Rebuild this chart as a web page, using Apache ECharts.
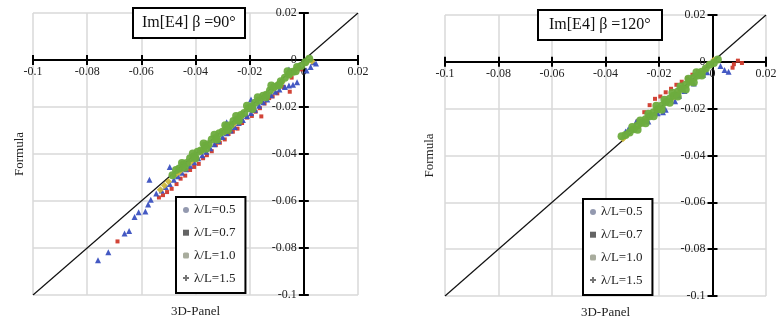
<!DOCTYPE html>
<html>
<head>
<meta charset="utf-8">
<script src="https://cdn.jsdelivr.net/npm/echarts@6/dist/echarts.min.js"></script>
<style>html,body{margin:0;padding:0;background:#fff}#c{width:776px;height:324px}</style>
</head>
<body>
<div id="c"></div>
<script>
// ---- data (x = 3D-Panel, y = Formula) ----
const seriesNames = ['λ/L=0.5', 'λ/L=0.7', 'λ/L=1.0', 'λ/L=1.5'];
const panelTitles = ['Im[E4] β =90°', 'Im[E4] β =120°'];
const xAxisTitle = '3D-Panel';
const yAxisTitle = 'Formula';
const axisMin = -0.1, axisMax = 0.02, axisStep = 0.02;
const diagonal = [[-0.1, -0.1], [0.02, 0.02]];

// beta = 90
const left05 = [[0.0035,-0.001],[0.0045,-0.0015],[0.0025,-0.003],[0.001,-0.0045],[-0.0025,-0.0095],[-0.004,-0.0105],[-0.0055,-0.0108],[-0.007,-0.0115],[-0.009,-0.0125],[-0.0105,-0.0135],[-0.012,-0.015],[-0.0135,-0.0168],[-0.015,-0.018],[-0.0165,-0.0195],[-0.018,-0.0212],[-0.0195,-0.0225],[-0.021,-0.0238],[-0.0225,-0.0255],[-0.024,-0.0268],[-0.0255,-0.0285],[-0.027,-0.03],[-0.0285,-0.0312],[-0.03,-0.0328],[-0.0315,-0.0345],[-0.033,-0.0358],[-0.0345,-0.0375],[-0.036,-0.039],[-0.0375,-0.0405],[-0.039,-0.0418],[-0.0405,-0.0435],[-0.042,-0.045],[-0.0435,-0.0465],[-0.045,-0.048],[-0.0465,-0.0495],[-0.048,-0.051],[-0.0495,-0.0528],[-0.051,-0.054],[-0.0525,-0.0555],[-0.0545,-0.0568],[-0.0285,-0.0265],[-0.0195,-0.0168],[-0.0495,-0.0455],[-0.0055,-0.004],[-0.057,-0.051],[-0.0565,-0.0595],[-0.0575,-0.0615],[-0.0585,-0.0645],[-0.061,-0.0648],[-0.0625,-0.0668],[-0.0645,-0.0728],[-0.0662,-0.0738],[-0.0722,-0.0818],[-0.076,-0.0852]];
const left07 = [[-0.001,-0.004],[-0.0045,-0.0075],[-0.0052,-0.0135],[-0.0075,-0.0115],[-0.0098,-0.0142],[-0.0115,-0.0155],[-0.0128,-0.0162],[-0.0145,-0.0185],[-0.0157,-0.024],[-0.0162,-0.0205],[-0.0178,-0.022],[-0.0192,-0.0238],[-0.021,-0.0245],[-0.0228,-0.0268],[-0.0245,-0.0292],[-0.0262,-0.0305],[-0.0278,-0.0315],[-0.0292,-0.0338],[-0.031,-0.0352],[-0.0325,-0.0362],[-0.034,-0.0388],[-0.0358,-0.0405],[-0.0372,-0.0418],[-0.0388,-0.0442],[-0.0405,-0.0455],[-0.042,-0.0468],[-0.0438,-0.0492],[-0.0455,-0.0505],[-0.047,-0.0528],[-0.0488,-0.0548],[-0.0505,-0.0562],[-0.052,-0.0575],[-0.0535,-0.0585],[-0.0688,-0.0772]];
const left10 = [[0.002,0.0005],[0.0005,-0.001],[-0.001,-0.0025],[-0.0025,-0.003],[-0.004,-0.005],[-0.0055,-0.0062],[-0.007,-0.0075],[-0.0085,-0.009],[-0.0095,-0.0108],[-0.011,-0.0115],[-0.0125,-0.013],[-0.0138,-0.0148],[-0.015,-0.0152],[-0.0165,-0.0172],[-0.018,-0.0182],[-0.0192,-0.0198],[-0.0205,-0.0205],[-0.022,-0.0225],[-0.0232,-0.0234],[-0.0245,-0.0252],[-0.026,-0.026],[-0.0272,-0.0278],[-0.0285,-0.0286],[-0.03,-0.0305],[-0.0312,-0.0312],[-0.0325,-0.0332],[-0.034,-0.0338],[-0.0352,-0.0358],[-0.0365,-0.0365],[-0.038,-0.0385],[-0.0392,-0.039],[-0.0405,-0.041],[-0.042,-0.0418],[-0.0432,-0.0438],[-0.0445,-0.0445],[-0.046,-0.0462],[-0.0472,-0.0468],[-0.0485,-0.049],[-0.006,-0.0048],[-0.012,-0.0108],[-0.017,-0.0158],[-0.021,-0.0195],[-0.025,-0.0238],[-0.029,-0.0278],[-0.033,-0.0318],[-0.037,-0.0355],[-0.041,-0.0398],[-0.045,-0.0438],[-0.003,-0.0048],[-0.009,-0.0105],[-0.014,-0.0158],[-0.019,-0.0208],[-0.024,-0.0258],[-0.028,-0.0298],[-0.032,-0.0338],[-0.036,-0.0378],[-0.04,-0.0418],[-0.044,-0.0458]];
const left15 = [[0.003,-0.0005],[0.001,-0.0012],[-0.002,-0.003],[-0.005,-0.0064],[-0.008,-0.0094],[-0.011,-0.012],[-0.015,-0.016],[-0.019,-0.0204],[-0.023,-0.024],[-0.026,-0.0274],[-0.029,-0.0304],[-0.032,-0.0334],[-0.035,-0.0364],[-0.038,-0.039],[-0.04,-0.0414],[-0.042,-0.0437],[-0.044,-0.045],[-0.046,-0.0477],[-0.048,-0.049],[-0.05,-0.0517],[-0.0515,-0.0534],[-0.053,-0.0552],[-0.037,-0.0377],[-0.041,-0.0424],[-0.045,-0.0464],[-0.047,-0.0484]];

// beta = 120
const right05 = [[0.003,-0.0018],[0.0045,-0.0035],[0.006,-0.0042],[-0.002,-0.0045],[-0.0035,-0.0055],[-0.007,-0.0092],[-0.0105,-0.0125],[-0.0125,-0.0145],[-0.014,-0.0168],[-0.0175,-0.0205],[-0.0185,-0.0215],[-0.0205,-0.022],[-0.024,-0.0255],[-0.027,-0.0262],[-0.0285,-0.0255],[-0.029,-0.0278],[-0.0315,-0.0288],[-0.0325,-0.0298]];
const right07 = [[-0.0215,-0.0158],[-0.0195,-0.0148],[-0.0175,-0.013],[-0.0155,-0.0115],[-0.0135,-0.0098],[-0.0115,-0.0085],[-0.0095,-0.007],[-0.0075,-0.0055],[-0.0055,-0.004],[-0.0235,-0.0185],[-0.0255,-0.0215],[-0.028,-0.0255],[0.008,-0.001],[0.0095,0.0005],[0.011,-0.0005],[0.0075,-0.0025]];
const right10 = [[0.002,0.001],[0.0005,-0.0005],[-0.001,-0.0012],[-0.0025,-0.0028],[-0.004,-0.0042],[-0.0055,-0.0058],[-0.007,-0.0068],[-0.0085,-0.0085],[-0.01,-0.0098],[-0.0115,-0.0115],[-0.013,-0.0128],[-0.0145,-0.0145],[-0.016,-0.0158],[-0.0175,-0.0172],[-0.019,-0.0188],[-0.0205,-0.0202],[-0.022,-0.0215],[-0.0235,-0.0232],[-0.025,-0.0245],[-0.0265,-0.026],[-0.028,-0.0272],[-0.0295,-0.0288],[-0.031,-0.0302],[-0.0325,-0.0312],[-0.034,-0.0318],[-0.006,-0.0045],[-0.012,-0.0105],[-0.018,-0.0162],[-0.024,-0.0222],[-0.03,-0.0278],[-0.004,-0.0058],[-0.01,-0.0118],[-0.016,-0.0175],[-0.022,-0.0232],[-0.028,-0.029],[-0.009,-0.0072],[-0.015,-0.0132],[-0.021,-0.0188],[-0.027,-0.025],[-0.007,-0.0088],[-0.013,-0.0148],[-0.019,-0.0205],[-0.025,-0.0262]];
const right15 = [[0.0005,0.0008],[-0.0015,-0.001],[-0.003,-0.0035],[-0.005,-0.0045],[-0.009,-0.0088],[-0.013,-0.0135],[-0.015,-0.0155],[-0.017,-0.0168],[-0.021,-0.0205],[-0.025,-0.0248],[-0.027,-0.0268],[-0.029,-0.0285],[-0.033,-0.0322],[-0.0335,-0.0328]];

// ---- styling ----
const SERIF = 'Liberation Serif';
const colors = {'λ/L=0.5': '#3a50c0', 'λ/L=0.7': '#d03a2c', 'λ/L=1.0': '#6dac3e', 'λ/L=1.5': '#cdb83c'};
const symbols = {'λ/L=0.5': ['triangle', 6], 'λ/L=0.7': ['rect', 4], 'λ/L=1.0': ['circle', 8], 'λ/L=1.5': ['diamond', 7]};
const legendIcons = [['circle', '#8d93ab'], ['rect', '#5c5c5c'], ['roundRect', '#a3a898'], ['path://M2,0H4V2H6V4H4V6H2V4H0V2H2Z', '#6e6e6e']];

const grids = [
  {left: 33, top: 13, width: 325, height: 282, outerBoundsMode: 'none', containLabel: false},
  {left: 445, top: 15, width: 321, height: 281, outerBoundsMode: 'none', containLabel: false}
];
// offsets that move the axis lines onto the zero crossing
function zeroFrac() { return (0 - axisMin) / (axisMax - axisMin); }
function offs(g) {
  const G = grids[g], f = zeroFrac();
  return {
    bottom: -(G.height * f),
    top: -(G.height * (1 - f)),
    left: -(G.width * f),
    right: -(G.width * (1 - f))
  };
}
const lineCommon = {onZero: false, lineStyle: {color: '#000', width: 2}};
const tickCommon = {show: true, inside: false, length: 5, lineStyle: {color: '#000', width: 2}};
const labelFont = {fontFamily: SERIF, fontSize: 12, color: '#222'};

function mainX(g, nameGap) {
  return {type: 'value', gridIndex: g, min: axisMin, max: axisMax, interval: axisStep, position: 'bottom', offset: offs(g).bottom,
    name: xAxisTitle, nameLocation: 'middle', nameGap: nameGap,
    nameTextStyle: {fontFamily: SERIF, fontSize: 13, color: '#222'},
    axisLine: lineCommon, axisTick: tickCommon,
    axisLabel: Object.assign({margin: 6, showMinLabel: true, showMaxLabel: true}, labelFont),
    splitLine: {show: true, lineStyle: {color: '#d8d8d8', width: 1.5}}};
}
function tickX(g) {
  return {type: 'value', gridIndex: g, min: axisMin, max: axisMax, interval: axisStep, position: 'top', offset: offs(g).top,
    axisLine: lineCommon, axisTick: tickCommon, axisLabel: {show: false}, splitLine: {show: false}};
}
function mainY(g, nameGap) {
  return {type: 'value', gridIndex: g, min: axisMin, max: axisMax, interval: axisStep, position: 'left', offset: offs(g).left,
    name: yAxisTitle, nameLocation: 'middle', nameGap: nameGap,
    nameTextStyle: {fontFamily: SERIF, fontSize: 13, color: '#222'},
    axisLine: lineCommon, axisTick: tickCommon,
    axisLabel: Object.assign({margin: 7, showMinLabel: true, showMaxLabel: true}, labelFont),
    splitLine: {show: true, lineStyle: {color: '#d8d8d8', width: 1.5}}};
}
function tickY(g) {
  return {type: 'value', gridIndex: g, min: axisMin, max: axisMax, interval: axisStep, position: 'right', offset: offs(g).right,
    axisLine: lineCommon, axisTick: tickCommon, axisLabel: {show: false}, splitLine: {show: false}};
}

function scatter(name, data, g) {
  return {type: 'scatter', name: name, data: data, xAxisIndex: g * 2, yAxisIndex: g * 2, z: 3,
    symbol: symbols[name][0], symbolSize: symbols[name][1],
    itemStyle: {color: colors[name], opacity: 0.95}};
}
function diagLine(g) {
  return {type: 'line', name: 'diag', data: diagonal, xAxisIndex: g * 2, yAxisIndex: g * 2, z: 1,
    symbol: 'none', lineStyle: {color: '#111', width: 1.2}, silent: true};
}

function legendFor(left, top) {
  return {orient: 'vertical', left: left, top: top, itemGap: 8.7, itemWidth: 6, itemHeight: 6,
    padding: [6, 10, 8, 7], borderColor: '#000', borderWidth: 2, backgroundColor: '#fff',
    textStyle: {fontFamily: SERIF, fontSize: 13, color: '#222', lineHeight: 14},
    data: seriesNames.map((n, i) => ({name: n, icon: legendIcons[i][0], itemStyle: {color: legendIcons[i][1]}}))};
}

const option = {
  animation: false,
  backgroundColor: '#fff',
  title: [
    {text: panelTitles[0], left: 133, top: 8, padding: [7, 9], borderColor: '#000', borderWidth: 2, backgroundColor: '#fff',
      textStyle: {fontFamily: SERIF, fontSize: 16, fontWeight: 'normal', color: '#111'}},
    {text: panelTitles[1], left: 538, top: 10, padding: [7, 11], borderColor: '#000', borderWidth: 2, backgroundColor: '#fff',
      textStyle: {fontFamily: SERIF, fontSize: 16, fontWeight: 'normal', color: '#111'}}
  ],
  legend: [legendFor(176, 197), legendFor(583, 199)],
  grid: grids,
  xAxis: [mainX(0, 245), tickX(0), mainX(1, 244), tickX(1)],
  yAxis: [mainY(0, 278), tickY(0), mainY(1, 276), tickY(1)],
  series: [
    diagLine(0),
    scatter('λ/L=0.7', left07, 0), scatter('λ/L=0.5', left05, 0), scatter('λ/L=1.5', left15, 0), scatter('λ/L=1.0', left10, 0),
    diagLine(1),
    scatter('λ/L=0.7', right07, 1), scatter('λ/L=0.5', right05, 1), scatter('λ/L=1.5', right15, 1), scatter('λ/L=1.0', right10, 1)
  ]
};
const chart = echarts.init(document.getElementById('c'), null, {renderer: 'canvas'});
chart.setOption(option);
</script>
</body>
</html>
